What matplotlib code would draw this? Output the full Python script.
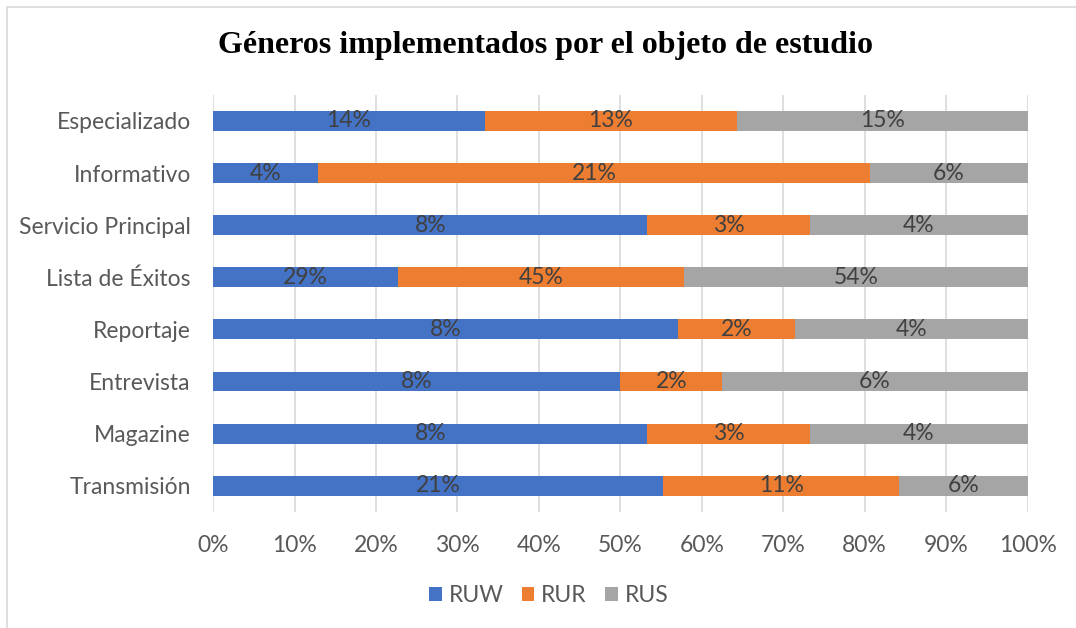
import numpy as np
import matplotlib
matplotlib.use('Agg')
import matplotlib.pyplot as plt
from matplotlib.patches import Rectangle
from matplotlib.ticker import PercentFormatter

# datos (etiquetas de la grafica, cada fila se normaliza al 100%)
categorias = ['Especializado', 'Informativo', 'Servicio Principal', 'Lista de Éxitos',
              'Reportaje', 'Entrevista', 'Magazine', 'Transmisión']
ruw = [14, 4, 8, 29, 8, 8, 8, 21]
rur = [13, 21, 3, 45, 2, 2, 3, 11]
rus = [15, 6, 4, 54, 4, 6, 4, 6]
series = ['RUW', 'RUR', 'RUS']
colores = ['#4472C4', '#ED7D31', '#A5A5A5']


def main():
    plt.rcParams['font.family'] = ['Lato', 'DejaVu Sans']
    fig = plt.figure(figsize=(10.76, 6.28), dpi=100)
    ax = fig.add_axes([0.198, 0.185, 0.757, 0.664])

    datos = np.array([ruw, rur, rus], dtype=float)
    totales = datos.sum(axis=0)
    y = np.arange(len(categorias))[::-1]

    izquierda = np.zeros(len(categorias))
    for i, nombre in enumerate(series):
        ancho = datos[i] / totales
        barras = ax.barh(y, ancho, left=izquierda, height=0.38, color=colores[i],
                         label=nombre, zorder=3)
        etiquetas = [f'{int(v)}%' for v in datos[i]]
        ax.bar_label(barras, labels=etiquetas, label_type='center',
                     color='#404040', fontsize=16.5, zorder=4)
        izquierda += ancho

    ax.set_xlim(0, 1)
    ax.set_ylim(-0.5, len(categorias) - 0.5)
    ax.set_xticks(np.arange(0, 1.01, 0.1))
    ax.xaxis.set_major_formatter(PercentFormatter(1.0, decimals=0))
    ax.set_yticks(y)
    ax.set_yticklabels(categorias)
    ax.tick_params(axis='both', length=0, labelsize=16.5, colors='#595959')
    ax.tick_params(axis='x', pad=17)
    ax.tick_params(axis='y', pad=16)
    ax.grid(axis='x', color='#D9D9D9', linewidth=1.2, zorder=0)
    for s in ax.spines.values():
        s.set_visible(False)

    fig.text(0.507, 0.928, 'Géneros implementados por el objeto de estudio',
             ha='center', va='center', fontsize=23, fontweight='bold',
             family='Liberation Serif', color='black')

    fig.legend(loc='center', bbox_to_anchor=(0.51, 0.051), ncol=3, frameon=False,
               fontsize=16.5, labelcolor='#595959', handlelength=0.55, handleheight=0.55,
               handletextpad=0.3, columnspacing=0.8)

    fig.patches.append(Rectangle((0.0065, -0.05), 1.2, 1.039, transform=fig.transFigure,
                                 fill=False, edgecolor='#D9D9D9', linewidth=1.2))

    fig.savefig('out.png', dpi=100)
    plt.close(fig)


if __name__ == '__main__':
    main()
